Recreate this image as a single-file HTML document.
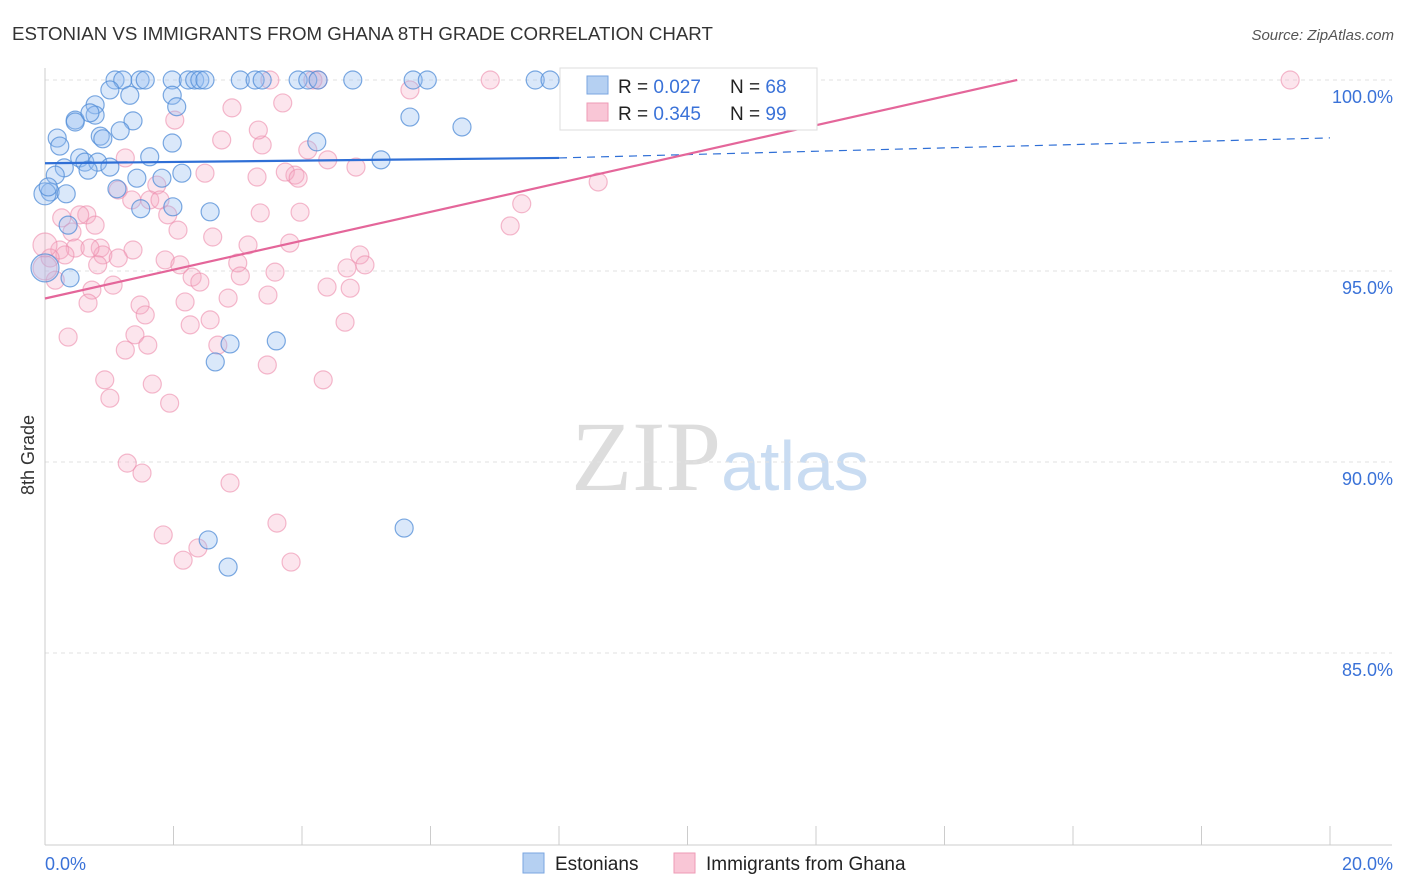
<!DOCTYPE html>
<html><head><meta charset="utf-8"><style>
body{margin:0;background:#fff;font-family:"Liberation Sans",sans-serif}
svg{display:block}
</style></head><body>
<svg id="c" width="1406" height="892">
<text x="12" y="40" font-size="18.7" fill="#333">ESTONIAN VS IMMIGRANTS FROM GHANA 8TH GRADE CORRELATION CHART</text>
<text x="1394" y="40" font-size="15" fill="#555" font-style="italic" text-anchor="end">Source: ZipAtlas.com</text>
<text x="720" y="490" font-size="100" fill="#ddd" text-anchor="middle" font-family="Liberation Serif">ZIP<tspan fill="#c9dcf2" font-family="Liberation Sans" font-size="70">atlas</tspan></text>
<text transform="translate(34,455) rotate(-90)" font-size="18" fill="#333" text-anchor="middle">8th Grade</text>
<g id="grid"></g><g id="pts"></g><g id="lines"></g>
<g>
<rect x="560" y="68" width="257" height="62" fill="#fff" stroke="#ddd"/>
<rect x="587" y="76" width="21" height="18" fill="#b5d0f2" stroke="#7aa6e0"/>
<rect x="587" y="103" width="21" height="18" fill="#f9c6d6" stroke="#ee9bb6"/>
<text x="618" y="93" font-size="19" fill="#222">R = <tspan fill="#3a72d8">0.027</tspan><tspan x="730">N = </tspan><tspan fill="#3a72d8">68</tspan></text>
<text x="618" y="120" font-size="19" fill="#222">R = <tspan fill="#3a72d8">0.345</tspan><tspan x="730">N = </tspan><tspan fill="#3a72d8">99</tspan></text>
</g>
<g>
<rect x="523" y="853" width="21" height="20" fill="#b5d0f2" stroke="#7aa6e0"/>
<text x="555" y="870" font-size="19" fill="#222">Estonians</text>
<rect x="674" y="853" width="21" height="20" fill="#f9c6d6" stroke="#ee9bb6"/>
<text x="706" y="870" font-size="19" fill="#222">Immigrants from Ghana</text>
</g>
</svg>
<script>
const yTicks=[100,95,90,85];
const xTickLabels=["0.0%","20.0%"];
const blueX=[1.09,1.21,1.48,1.56,1.98,2.23,2.33,2.41,2.49,3.04,3.27,3.38,3.94,4.09,4.25,4.79,5.73,5.95,7.63,7.86,1.98,1.32,1.01,0.78,2.05,0.47,0.78,0.70,1.37,1.17,0.19,0.86,0.90,0.23,1.98,4.23,5.68,6.49,1.63,0.54,0.62,0.82,1.01,0.30,0.67,2.13,0.16,1.43,1.82,0.08,0.33,1.12,1.49,1.99,2.57,0.36,0.39,0.0,5.23,2.88,3.60,2.65,2.54,2.85,5.59,0.0,0.47,0.05];
const blueY=[100,100,100,100,100,100,100,100,100,100,100,100,100,100,100,100,100,100,100,100,99.6,99.6,99.74,99.35,99.3,98.95,99.08,99.14,98.93,98.67,98.48,98.53,98.46,98.27,98.35,98.38,99.03,98.77,97.99,97.96,97.85,97.85,97.72,97.70,97.64,97.56,97.51,97.43,97.43,97.07,97.02,97.15,96.63,96.68,96.55,96.2,94.82,95.08,97.91,93.09,93.17,92.62,87.96,87.25,88.27,97.02,98.9,97.2];
const blueR=[9,9,9,9,9,9,9,9,9,9,9,9,9,9,9,9,9,9,9,9,9,9,9,9,9,9,9,9,9,9,9,9,9,9,9,9,9,9,9,9,9,9,9,9,9,9,9,9,9,9,9,9,9,9,9,9,9,14,9,9,9,9,9,9,9,11,9,9];
const pinkX=[3.50,4.25,4.17,6.93,8.22,9.18,19.38,5.68,3.70,2.91,2.02,2.75,3.38,1.25,4.09,4.40,4.84,2.49,3.30,3.89,3.74,3.94,1.74,1.14,1.63,1.35,1.79,1.91,0.65,0.54,0.26,3.97,3.35,8.61,7.42,7.24,0.78,0.42,2.07,2.61,3.16,3.81,1.37,0.47,0.86,0.23,0.31,0.90,1.14,0.08,4.90,4.98,4.70,3.00,3.58,1.87,2.10,2.29,0.82,2.41,3.04,0.16,0.73,1.06,4.39,4.75,2.18,2.85,3.47,0.67,1.48,1.56,2.57,2.26,4.67,1.40,1.60,2.69,0.36,1.25,3.46,0.93,1.67,4.33,1.01,1.94,1.28,1.51,2.88,3.61,1.84,2.38,2.15,3.83,0.0,0.0,3.32,0.70];
const pinkY=[100,100,100,100,100,100,100,99.74,99.4,99.27,98.95,98.43,98.3,97.96,98.17,97.91,97.72,97.56,97.46,97.51,97.59,97.43,97.25,97.12,96.86,96.86,96.86,96.47,96.47,96.47,96.39,96.54,96.52,97.33,96.76,96.18,96.2,96.02,96.07,95.89,95.68,95.73,95.55,95.6,95.6,95.55,95.42,95.42,95.34,95.34,95.42,95.16,95.08,95.21,94.97,95.29,95.16,94.84,95.16,94.71,94.87,94.76,94.50,94.63,94.58,94.55,94.19,94.29,94.37,94.16,94.11,93.85,93.72,93.59,93.66,93.33,93.06,93.06,93.27,92.93,92.54,92.15,92.04,92.15,91.67,91.54,89.97,89.71,89.45,88.4,88.09,87.75,87.43,87.38,95.68,95.08,98.69,95.6];
const NS="http://www.w3.org/2000/svg";
const X0=45,X1=1330,YT=80,PX=38.2;
const sx=v=>X0+(X1-X0)*v/20, sy=v=>YT+(100-v)*PX;
function mk(t,a,p){const e=document.createElementNS(NS,t);for(const k in a)e.setAttribute(k,a[k]);p.appendChild(e);return e;}
const g=document.getElementById('grid');
yTicks.forEach(v=>{
 const l=mk('line',{x1:X0,x2:1392,y1:sy(v),y2:sy(v),stroke:'#e2e2e2','stroke-dasharray':'4,4'},g);
 
 
 const t=mk('text',{x:1393,y:sy(v)+23,'font-size':18,fill:'#3a72d8','text-anchor':'end'},g);
 t.textContent=v.toFixed(1)+'%';
 
 
});
mk('line',{x1:X0,x2:X0,y1:68,y2:845,stroke:'#ccc'},g);
mk('line',{x1:X0,x2:1392,y1:845,y2:845,stroke:'#ccc'},g);
for(let i=0;i<=10;i++){const x=sx(i*2);mk('line',{x1:x,x2:x,y1:826,y2:845,stroke:'#ccc'},g);}
[[0,'start',45],[20,'end',1393]].forEach((d,i)=>{const t=mk('text',{x:d[2],y:870,'font-size':18,fill:'#3a72d8','text-anchor':d[1]},g);t.textContent=xTickLabels[i];});
const p=document.getElementById('pts');
pinkX.forEach((v,i)=>{const c=mk('circle',{cx:sx(v),cy:sy(pinkY[i]),r:(v===0?12:9),fill:'rgba(246,170,195,0.3)',stroke:'rgba(236,140,172,0.6)','stroke-width':1.2},p);});
blueX.forEach((v,i)=>{const c=mk('circle',{cx:sx(v),cy:sy(blueY[i]),r:blueR[i],fill:'rgba(150,190,240,0.35)',stroke:'rgba(80,140,215,0.75)','stroke-width':1.2},p);});
const L=document.getElementById('lines');
const bl=[97.82,0.0175],pl=[94.28,0.378];
let e=mk('line',{x1:sx(0),y1:sy(bl[0]),x2:sx(8),y2:sy(bl[0]+bl[1]*8),stroke:'#2f6fd6','stroke-width':2.2},L);

e=mk('line',{x1:sx(8),y1:sy(bl[0]+bl[1]*8),x2:sx(20),y2:sy(bl[0]+bl[1]*20)-12,stroke:'#2f6fd6','stroke-width':1.2,'stroke-dasharray':'8,6'},L);

const xe=(100-pl[0])/pl[1];
e=mk('line',{x1:sx(0),y1:sy(pl[0]),x2:sx(xe),y2:sy(100),stroke:'#e4669a','stroke-width':2.2},L);

</script>
</body></html>
